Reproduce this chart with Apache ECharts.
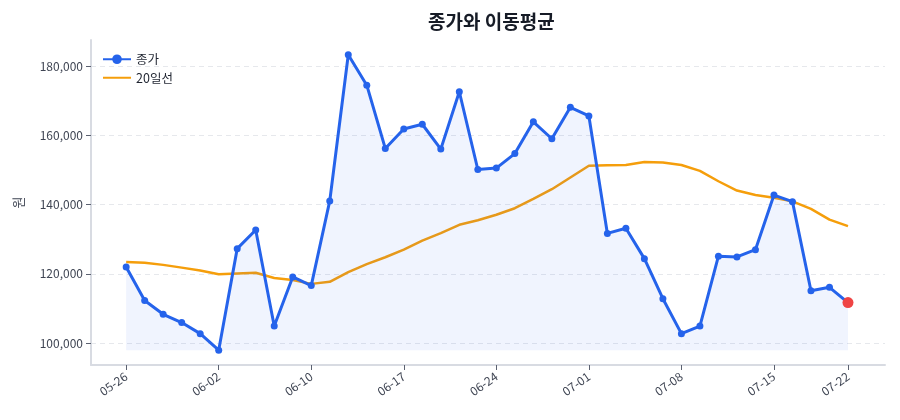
<!DOCTYPE html>
<html>
<head>
<meta charset="utf-8">
<script src="https://cdn.jsdelivr.net/npm/echarts@6.0.0/dist/echarts.min.js"></script>
<style>
  html, body { margin: 0; padding: 0; background: #fff; }
  #chart { width: 900px; height: 420px; }
</style>
</head>
<body>
<div id="chart"></div>
<script>
var dates = [
    '05-26', '05-27', '05-28', '05-29', '05-30',
    '06-02', '06-03', '06-04', '06-05', '06-09',
    '06-10', '06-11', '06-12', '06-13', '06-16',
    '06-17', '06-18', '06-19', '06-20', '06-23',
    '06-24', '06-25', '06-26', '06-27', '06-30',
    '07-01', '07-02', '07-03', '07-04', '07-07',
    '07-08', '07-09', '07-10', '07-11', '07-14',
    '07-15', '07-16', '07-17', '07-18', '07-22'
];
var closes = [
    122000, 112300, 108300, 105900, 102700,
    97900, 127300, 132700, 104900, 119100,
    116600, 141100, 183400, 174600, 156300,
    161900, 163300, 156100, 172700, 150200,
    150600, 154800, 164000, 159100, 168200,
    165700, 131700, 133200, 124400, 112800,
    102700, 104900, 125100, 124900, 127000,
    142800, 140900, 115100, 116100, 111700
];
var ma20 = [
    123400, 123200, 122600, 121800, 121000,
    119900, 120100, 120300, 118800, 118200,
    117100, 117700, 120500, 122800, 124800,
    127000, 129600, 131800, 134200, 135500,
    137100, 139000, 141700, 144500, 147900,
    151300, 151400, 151500, 152400, 152200,
    151500, 149800, 146800, 144100, 142800,
    142000, 141000, 138800, 135700, 133800
];
var labelIdx = [0, 5, 10, 15, 20, 25, 30, 35, 39];
var yTicks = [100000, 120000, 140000, 160000, 180000];

var lo = Math.min.apply(null, closes);
var hi = Math.max.apply(null, closes);
var pad = (hi - lo) * 0.05;

// 마지막 종가만 빨간 점으로
var closeData = closes.map(function (v, i) {
    var item = { value: [i, v] };
    if (i === closes.length - 1) {
        item.symbolSize = 11;
        item.itemStyle = { color: '#ef4444' };
    }
    return item;
});
var maData = ma20.map(function (v, i) { return [i, v]; });

var chart = echarts.init(document.getElementById('chart'));
chart.setOption({
    backgroundColor: '#fff',
    textStyle: { fontFamily: '"Noto Sans CJK KR", "Noto Sans", sans-serif' },
    title: {
        text: '종가와 이동평균',
        left: 423,
        top: 7,
        textStyle: { fontSize: 19, fontWeight: 'bold', color: '#161b26' }
    },
    legend: {
        orient: 'vertical',
        left: 97,
        top: 48,
        itemWidth: 28,
        itemHeight: 12,
        itemGap: 6,
        textStyle: { fontSize: 12.5, color: '#1f2430' },
        data: [
            { name: '종가' },
            { name: '20일선', itemStyle: { opacity: 0 } }
        ]
    },
    grid: { left: 91, right: 15, top: 40, bottom: 55 },
    xAxis: {
        type: 'value',
        min: -1.9,
        max: 41.0,
        axisLine: { onZero: false, lineStyle: { color: '#d8dbe2', width: 2 } },
        axisTick: { show: true, customValues: labelIdx, length: 5, lineStyle: { color: '#5b6170' } },
        axisLabel: {
            customValues: labelIdx,
            rotate: 35,
            margin: 10,
            fontSize: 12,
            color: '#3f4553',
            formatter: function (v) { return dates[v] || ''; }
        },
        splitLine: { show: false }
    },
    yAxis: {
        type: 'value',
        min: lo - pad,
        max: hi + pad,
        name: '원',
        nameLocation: 'middle',
        nameGap: 66,
        nameTextStyle: { fontSize: 13, color: '#3f4553' },
        axisLine: { show: true, onZero: false, lineStyle: { color: '#d8dbe2', width: 2 } },
        axisTick: { show: true, customValues: yTicks, length: 5, lineStyle: { color: '#5b6170' } },
        axisLabel: {
            customValues: yTicks,
            fontSize: 12,
            color: '#3f4553',
            formatter: function (v) { return v.toLocaleString('en-US'); }
        },
        splitLine: { show: true, lineStyle: { color: '#e6e8ec', type: [5, 4] } }
    },
    series: [
        {
            name: '종가',
            type: 'line',
            data: closeData,
            symbol: 'circle',
            symbolSize: 7,
            itemStyle: { color: '#2563eb' },
            lineStyle: { color: '#2563eb', width: 3 },
            areaStyle: { color: 'rgba(37,99,235,0.1)', origin: lo },
            z: 3
        },
        {
            name: '20일선',
            type: 'line',
            data: maData,
            showSymbol: false,
            symbol: 'none',
            itemStyle: { color: '#f59e0b' },
            lineStyle: { color: '#f59e0b', width: 2.5 },
            z: 2
        }
    ]
});
</script>
</body>
</html>
